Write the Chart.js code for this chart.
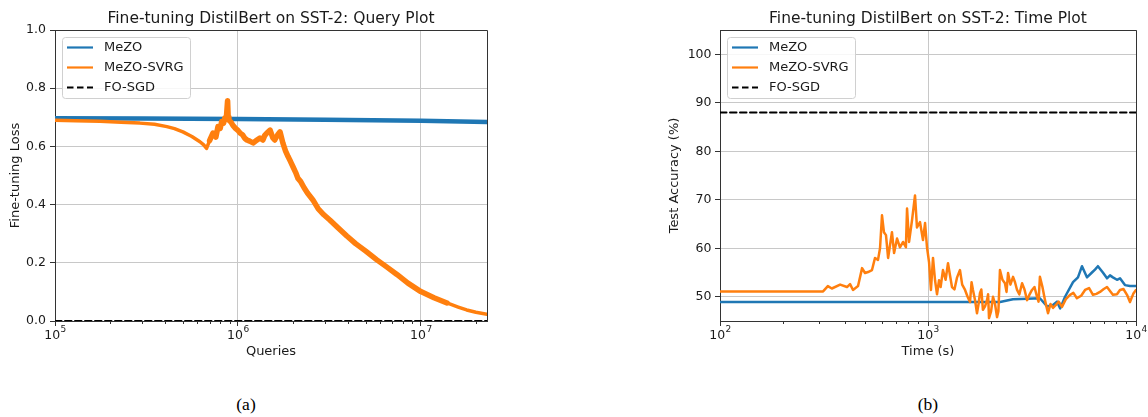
<!DOCTYPE html>
<html>
<head>
<meta charset="utf-8">
<script src="https://cdn.jsdelivr.net/npm/chart.js@4.4.1/dist/chart.umd.min.js"></script>
<style>
  body { margin: 0; background: #fff; width: 1148px; height: 417px; position: relative; overflow: hidden; }
  canvas { position: absolute; top: 0; }
  #lossChart { left: 0; }
  #timeChart { left: 650px; }
  .cap { position: absolute; top: 394px; font-family: 'Liberation Serif', serif; font-size: 17.5px; color: #000; transform: translateX(-50%); }
</style>
</head>
<body>
<canvas id="lossChart" width="500" height="370"></canvas>
<canvas id="timeChart" width="498" height="370"></canvas>
<div class="cap" style="left:246px;">(a)</div>
<div class="cap" style="left:928px;">(b)</div>
<script>
// --- (a) Query plot: fine-tuning loss vs number of queries ---
const queryMezo = [1e5, 3e5, 1e6, 3e6, 1e7, 2.3e7];
const lossMezo  = [0.697, 0.696, 0.694, 0.692, 0.688, 0.684];

const querySvrg = [1e5, 1.3e5, 1.76e5, 2.3e5, 2.91e5, 3.5e5, 4.09e5, 4.5e5, 5.0e5, 5.6e5,
  6.2e5, 6.5e5, 6.74e5, 7.0e5, 7.3e5, 7.58e5, 7.78e5, 8.0e5, 8.15e5, 8.35e5,
  8.49e5, 8.65e5, 8.78e5, 8.85e5, 8.93e5, 9.15e5, 9.39e5, 9.7e5, 1.0e6, 1.03e6,
  1.06e6, 1.09e6, 1.12e6, 1.16e6, 1.21e6, 1.26e6, 1.32e6, 1.37e6, 1.40e6, 1.44e6,
  1.50e6, 1.55e6, 1.59e6, 1.65e6, 1.70e6, 1.76e6, 1.82e6, 1.88e6, 1.94e6, 2.0e6,
  2.07e6, 2.13e6, 2.2e6, 2.3e6, 2.4e6, 2.57e6, 2.75e6, 2.95e6, 3.18e6, 3.5e6,
  3.94e6, 4.4e6, 5.0e6, 5.75e6, 6.5e6, 7.4e6, 8.5e6, 1.0e7, 1.18e7, 1.39e7,
  1.6e7, 1.78e7, 2.0e7, 2.3e7];
const lossSvrg = [0.690, 0.688, 0.686, 0.683, 0.680, 0.676, 0.668, 0.661, 0.650, 0.634,
  0.616, 0.605, 0.593, 0.620, 0.646, 0.632, 0.668, 0.662, 0.685, 0.680,
  0.698, 0.700, 0.757, 0.700, 0.690, 0.684, 0.672, 0.662, 0.655, 0.645,
  0.640, 0.628, 0.622, 0.618, 0.612, 0.620, 0.629, 0.622, 0.637, 0.646,
  0.656, 0.630, 0.622, 0.640, 0.650, 0.612, 0.585, 0.565, 0.548, 0.530,
  0.510, 0.490, 0.480, 0.458, 0.440, 0.416, 0.385, 0.365, 0.347, 0.322,
  0.292, 0.266, 0.240, 0.210, 0.186, 0.160, 0.130, 0.101, 0.080, 0.062,
  0.048, 0.038, 0.030, 0.023];

const queryFo = [1e5, 2.3e7];
const lossFo  = [0.0, 0.0];

const queryTicks = [1e5, 1e6, 1e7];
const queryMinor = [2e5, 3e5, 4e5, 5e5, 6e5, 7e5, 8e5, 9e5, 2e6, 3e6, 4e6, 5e6, 6e6, 7e6, 8e6, 9e6, 2e7];
const lossTicks  = [0, 0.2, 0.4, 0.6, 0.8, 1.0];

// --- (b) Time plot: test accuracy vs wall-clock time ---
const timeMezo = [100, 2220, 2560, 3000, 3450, 3740, 3990, 4170, 4320, 4560,
  4980, 5260, 5500, 5810, 6140, 6350, 6560, 6930, 7255, 7500, 7745, 8100, 8375, 8850, 9350, 10000];
const accMezo  = [48.9, 48.9, 49.5, 49.6, 49.7, 48.0, 48.3, 49.0, 47.6, 50.0,
  53.0, 54.0, 56.3, 54.0, 55.0, 55.6, 56.3, 55.0, 53.8, 54.4, 54.0, 53.5, 53.8, 52.4, 52.2, 52.2];

const timeSvrg = [100, 313, 330, 345, 378, 408, 422, 436, 461, 482,
  498, 515, 538, 556, 575, 588, 601, 614, 628, 643,
  671, 687, 710, 733, 759, 783, 793, 811, 838, 866,
  885, 915, 946, 968, 989, 1012, 1033, 1057, 1081, 1105,
  1130, 1150, 1180, 1215, 1248, 1275, 1304, 1340, 1380, 1425,
  1460, 1507, 1550, 1592, 1620, 1645, 1680, 1720, 1750, 1778,
  1805, 1837, 1880, 1922, 1945, 1965, 2010, 2054, 2100, 2147,
  2180, 2218, 2280, 2344, 2385, 2426, 2490, 2564, 2620, 2680,
  2750, 2833, 2910, 2994, 3080, 3162, 3250, 3342, 3400, 3452,
  3550, 3652, 3710, 3776, 3880, 3990, 4100, 4250, 4406, 4600,
  4819, 5000, 5200, 5450, 5689, 5950, 6211, 6450, 6712, 7000,
  7255, 7500, 7745, 8100, 8375, 8700, 9053, 9354, 9700, 10000];
const accSvrg = [51.1, 51.1, 52.2, 51.7, 52.5, 52.0, 52.6, 51.4, 52.2, 55.9,
  54.9, 55.1, 55.5, 58.0, 57.6, 60.0, 66.8, 63.3, 62.7, 58.0,
  63.3, 59.0, 62.0, 60.2, 61.3, 60.2, 68.2, 61.3, 65.8, 70.9,
  64.3, 65.4, 61.7, 65.2, 60.2, 57.1, 51.4, 58.0, 53.4, 50.5,
  53.4, 52.0, 55.5, 53.5, 56.9, 54.5, 52.0, 51.5, 54.0, 55.5,
  52.5, 51.4, 50.0, 48.9, 53.0, 51.4, 49.5, 46.6, 48.5, 50.8,
  51.5, 47.3, 48.0, 49.3, 50.5, 45.6, 47.0, 50.0, 48.5, 45.8,
  47.0, 55.5, 53.5, 52.8, 51.0, 54.9, 52.5, 54.1, 53.0, 51.4,
  50.5, 52.8, 51.5, 49.3, 50.5, 51.4, 52.0, 50.0, 49.0, 54.1,
  52.0, 49.3, 48.0, 46.6, 48.5, 47.7, 48.2, 49.0, 47.9, 49.5,
  50.4, 50.8, 49.7, 50.2, 51.4, 51.8, 50.4, 50.6, 51.0, 51.6,
  52.0, 51.2, 50.4, 50.5, 51.4, 51.6, 50.4, 48.9, 50.6, 51.4];

const timeFo = [100, 10000];
const accFo  = [88.0, 88.0];

const timeTicks = [1e2, 1e3, 1e4];
const timeMinor = [200, 300, 400, 500, 600, 700, 800, 900, 2000, 3000, 4000, 5000, 6000, 7000, 8000, 9000];
const accTicks  = [50, 60, 70, 80, 90, 100];

const BLUE = '#1f77b4';
const ORANGE = '#ff7f0e';
const TEXT = '#1a1a1a';
const GRID = '#c8c8c8';
const SPINE = '#333';

Chart.defaults.font.family = "'DejaVu Sans', sans-serif";
Chart.defaults.color = TEXT;

function zip(xs, ys) {
  return xs.map((x, i) => ({ x, y: ys[i] }));
}

// top/right spines, minor ticks and 10^n labels of the log axis
const framePlugin = {
  id: 'frame',
  afterDraw(chart, args, opts) {
    const { ctx, chartArea: a } = chart;
    const xs = chart.scales.x;
    ctx.save();
    ctx.strokeStyle = SPINE;
    ctx.lineWidth = 1;
    ctx.beginPath();
    ctx.moveTo(a.left, Math.round(a.top) + 0.5);
    ctx.lineTo(a.right + 0.5, Math.round(a.top) + 0.5);
    ctx.lineTo(Math.round(a.right) + 0.5, a.bottom);
    ctx.stroke();
    ctx.beginPath();
    (opts.minor || []).forEach(v => {
      const px = Math.round(xs.getPixelForValue(v)) + 0.5;
      ctx.moveTo(px, a.bottom);
      ctx.lineTo(px, a.bottom + 3);
    });
    ctx.stroke();

    ctx.fillStyle = TEXT;
    ctx.textBaseline = 'alphabetic';
    ctx.textAlign = 'left';
    (opts.major || []).forEach(v => {
      const base = '10';
      const exp = String(Math.round(Math.log10(v)));
      ctx.font = "12.5px 'DejaVu Sans'";
      const wb = ctx.measureText(base).width;
      ctx.font = "9px 'DejaVu Sans'";
      const we = ctx.measureText(exp).width;
      const x0 = xs.getPixelForValue(v) - (wb + we) / 2;
      ctx.font = "12.5px 'DejaVu Sans'";
      ctx.fillText(base, x0, a.bottom + 18.3);
      ctx.font = "9px 'DejaVu Sans'";
      ctx.fillText(exp, x0 + wb + 0.5, a.bottom + 11.3);
    });
    ctx.restore();
  }
};

// matplotlib style legend box in the upper left corner
const boxLegendPlugin = {
  id: 'boxLegend',
  afterDraw(chart, args, opts) {
    const { ctx, chartArea: a } = chart;
    const x0 = a.left + 7, y0 = a.top + 7, w = 128, h = 61;
    ctx.save();
    ctx.fillStyle = 'rgba(255,255,255,0.85)';
    ctx.strokeStyle = '#d0d0d0';
    ctx.lineWidth = 1;
    ctx.beginPath();
    ctx.roundRect(x0 + 0.5, y0 + 0.5, w, h, 3);
    ctx.fill();
    ctx.stroke();
    ctx.font = "13px 'DejaVu Sans'";
    ctx.textBaseline = 'middle';
    ctx.fillStyle = TEXT;
    chart.data.datasets.forEach((ds, i) => {
      const cy = y0 + 10.5 + i * 20;
      ctx.strokeStyle = ds.borderColor;
      ctx.lineWidth = 2.2;
      ctx.setLineDash(ds.borderDash || []);
      ctx.beginPath();
      ctx.moveTo(x0 + 5, cy);
      ctx.lineTo(x0 + 31, cy);
      ctx.stroke();
      ctx.setLineDash([]);
      ctx.fillText(ds.label, x0 + 42, cy + 0.5);
    });
    ctx.restore();
  }
};

function buildChart(id, cfg) {
  return new Chart(document.getElementById(id), {
    type: 'line',
    data: {
      datasets: [
        { label: 'MeZO', data: cfg.mezo, borderColor: BLUE, borderWidth: cfg.mezoWidth, order: 2 },
        { label: 'MeZO-SVRG', data: cfg.svrg, borderColor: ORANGE, borderWidth: cfg.svrgWidth, order: 1,
          segment: cfg.svrgSegment || {} },
        { label: 'FO-SGD', data: cfg.fo, borderColor: '#000', borderWidth: 2, borderDash: [6.5, 3.5], order: 0 }
      ]
    },
    options: {
      responsive: false,
      animation: false,
      elements: { point: { radius: 0 }, line: { tension: 0, borderJoinStyle: 'round', borderCapStyle: 'round' } },
      layout: { padding: { left: 0, top: 0, right: cfg.padRight, bottom: 0 } },
      plugins: {
        legend: { display: false },
        tooltip: { enabled: false },
        title: {
          display: true, text: cfg.title, fullSize: false, color: TEXT,
          font: { size: 15.5, weight: 'normal' }, padding: { top: 10, bottom: 1.4 }
        },
        frame: { minor: cfg.minor, major: cfg.xTicks },
        boxLegend: {}
      },
      scales: {
        x: {
          type: 'logarithmic', min: cfg.xMin, max: cfg.xMax,
          afterBuildTicks: s => { s.ticks = cfg.xTicks.map(v => ({ value: v })); },
          afterFit: s => { s.height = 49; },
          ticks: { display: false, autoSkip: false },
          grid: { color: GRID, lineWidth: 1, tickColor: SPINE, tickLength: 5 },
          border: { color: SPINE, width: 1 },
          title: { display: true, text: cfg.xTitle, font: { size: 13 }, padding: { top: 0, bottom: 10.2 }, color: TEXT }
        },
        y: {
          type: 'linear', min: cfg.yMin, max: cfg.yMax,
          afterBuildTicks: s => { s.ticks = cfg.yTicks.map(v => ({ value: v })); },
          afterFit: s => { s.width = cfg.yWidth; },
          ticks: { callback: cfg.yFormat, font: { size: 12.5 }, padding: cfg.yPad, color: TEXT },
          grid: { color: GRID, lineWidth: 1, tickColor: SPINE, tickLength: 5 },
          border: { color: SPINE, width: 1 },
          title: { display: true, text: cfg.yTitle, font: { size: 13 }, padding: { top: cfg.yTitlePad, bottom: 0 }, color: TEXT }
        }
      }
    },
    plugins: [framePlugin, boxLegendPlugin]
  });
}

buildChart('lossChart', {
  title: 'Fine-tuning DistilBert on SST-2: Query Plot',
  xTitle: 'Queries', yTitle: 'Fine-tuning Loss',
  mezo: zip(queryMezo, lossMezo), svrg: zip(querySvrg, lossSvrg), fo: zip(queryFo, lossFo),
  mezoWidth: 4.5, svrgWidth: 3.5,
  // the noisy middle stretch of the SVRG curve reads as a wider band
  svrgSegment: { borderWidth: c => (c.p0.parsed.x >= 7e5 && c.p0.parsed.x < 1.2e7 ? 5.5 : 3.5) },
  xMin: 1e5, xMax: 2.3e7, xTicks: queryTicks, minor: queryMinor,
  yMin: 0, yMax: 1, yTicks: lossTicks, yFormat: v => v.toFixed(1),
  yWidth: 55, yPad: 4, yTitlePad: 8.2, padRight: 13
});

buildChart('timeChart', {
  title: 'Fine-tuning DistilBert on SST-2: Time Plot',
  xTitle: 'Time (s)', yTitle: 'Test Accuracy (%)',
  mezo: zip(timeMezo, accMezo), svrg: zip(timeSvrg, accSvrg), fo: zip(timeFo, accFo),
  mezoWidth: 2.5, svrgWidth: 2.5,
  xMin: 1e2, xMax: 1e4, xTicks: timeTicks, minor: timeMinor,
  yMin: 45, yMax: 105, yTicks: accTicks, yFormat: v => String(v),
  yWidth: 70, yPad: 3.5, yTitlePad: 17.2, padRight: 12
});
</script>
</body>
</html>
